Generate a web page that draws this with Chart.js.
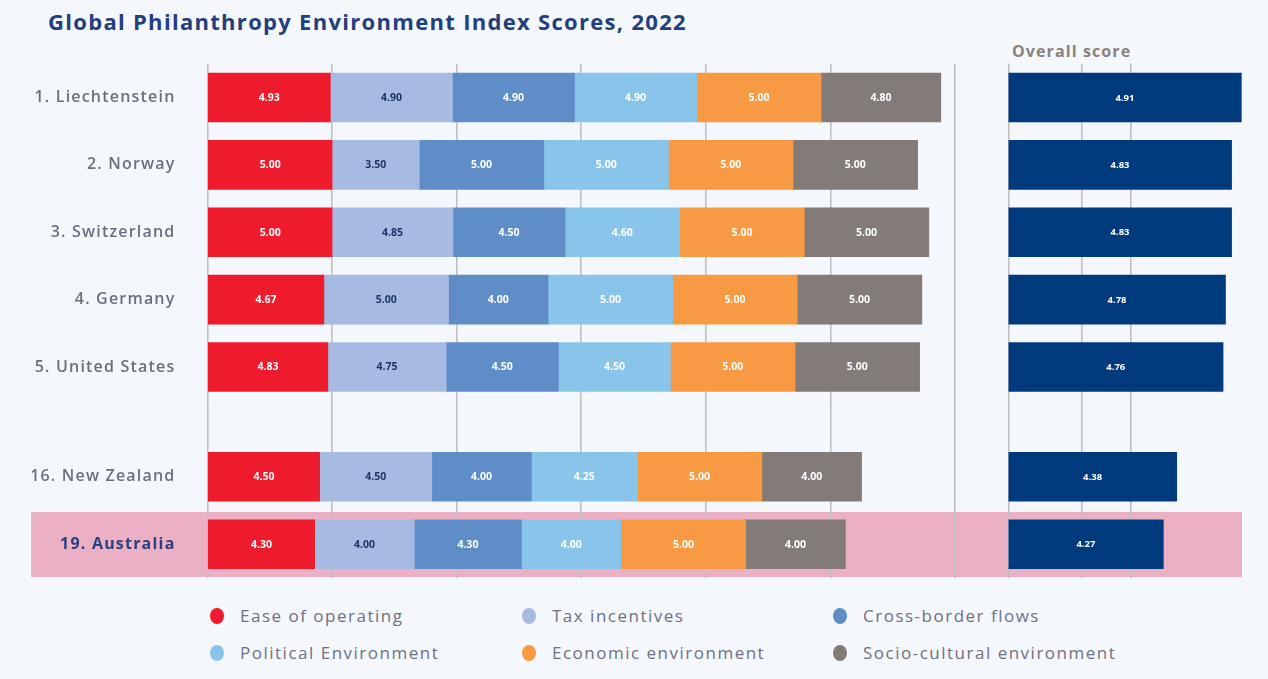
<!DOCTYPE html>
<html>
<head>
<meta charset="utf-8">
<script src="https://cdn.jsdelivr.net/npm/chart.js@4.4.1/dist/chart.umd.min.js"></script>
<style>
html,body{margin:0;padding:0;background:#f4f7fc;width:1268px;height:679px;overflow:hidden;font-family:"Open Sans",sans-serif}
#title{position:absolute;left:48px;top:6px;font-size:22px;font-weight:700;color:#24407c;white-space:nowrap;letter-spacing:1.3px}
#band{position:absolute;left:31px;top:512px;width:1211px;height:65px;background:#ebb0c3}
canvas{position:absolute}
#overallLabel{position:absolute;left:1012px;top:40px;font-size:16px;font-weight:700;color:#8c817c;white-space:nowrap;letter-spacing:1.1px}
#legend{position:absolute;left:210px;top:597px;display:grid;grid-template-columns:312px 311px auto;grid-auto-rows:37px}
.item{display:flex;align-items:center;font-size:17px;color:#707082;white-space:nowrap;letter-spacing:1.5px}
.dot{width:14px;height:16px;border-radius:50%;margin-right:16px;flex:none}
</style>
</head>
<body>
<div id="band"></div>
<div id="title">Global Philanthropy Environment Index Scores, 2022</div>
<div id="overallLabel">Overall score</div>
<canvas id="cTL" width="960" height="384" style="left:0;top:60px"></canvas>
<canvas id="cBL" width="960" height="135" style="left:0;top:443px"></canvas>
<canvas id="cTR" width="278" height="384" style="left:990px;top:60px"></canvas>
<canvas id="cBR" width="278" height="135" style="left:990px;top:443px"></canvas>
<div id="legend"></div>
<script>
// ---- data ----
const countriesTop = ["1. Liechtenstein", "2. Norway", "3. Switzerland", "4. Germany", "5. United States"];
const countriesBottom = ["16. New Zealand", "19. Australia"];
const seriesNames = ["Ease of operating", "Tax incentives", "Cross-border flows", "Political Environment", "Economic environment", "Socio-cultural environment"];
const easeOfOperating = [4.93, 5.00, 5.00, 4.67, 4.83, 4.50, 4.30];
const taxIncentives = [4.90, 3.50, 4.85, 5.00, 4.75, 4.50, 4.00];
const crossBorderFlows = [4.90, 5.00, 4.50, 4.00, 4.50, 4.00, 4.30];
const politicalEnvironment = [4.90, 5.00, 4.60, 5.00, 4.50, 4.25, 4.00];
const economicEnvironment = [5.00, 5.00, 5.00, 5.00, 5.00, 5.00, 5.00];
const socioCulturalEnvironment = [4.80, 5.00, 5.00, 5.00, 5.00, 4.00, 4.00];
const overallScore = [4.91, 4.83, 4.83, 4.78, 4.76, 4.38, 4.27];
const componentTicks = [0, 5, 10, 15, 20, 25, 30];
const overallTicks = [3, 3.6, 4];

// ---- styles ----
const seriesColors = ["#ee1b2d", "#a7bbe2", "#5e8dc8", "#89c5ea", "#f89943", "#827b78"];
const labelColors = ["#ffffff", "#1d3566", "#ffffff", "#ffffff", "#ffffff", "#ffffff"];
const overallColor = "#023b7d";
const gridColor = "#c0c0c4";
const gridWidth = 1.6;
const FONT = '"Open Sans", sans-serif';

const seriesValues = [easeOfOperating, taxIncentives, crossBorderFlows, politicalEnvironment, economicEnvironment, socioCulturalEnvironment];

const spacing = {
  id: 'spacing',
  beforeDraw(chart, args, opts) { chart.ctx.letterSpacing = opts.value || '0px'; }
};

const extendGrid = {
  id: 'extendGrid',
  beforeDatasetsDraw(chart, args, opts) {
    if (!opts.down) return;
    const {ctx, chartArea} = chart;
    const x = chart.scales.x;
    const h = gridWidth / 2;
    ctx.save();
    ctx.strokeStyle = gridColor;
    ctx.lineWidth = gridWidth;
    x.ticks.forEach(t => {
      const px = Math.round(x.getPixelForValue(t.value) - h) + h;
      ctx.beginPath();
      ctx.moveTo(px, chartArea.bottom - 1);
      ctx.lineTo(px, chart.height);
      ctx.stroke();
    });
    ctx.restore();
  }
};

const barLabels = {
  id: 'barLabels',
  afterDatasetsDraw(chart, args, opts) {
    const ctx = chart.ctx;
    ctx.save();
    ctx.letterSpacing = '0px';
    ctx.font = opts.font;
    ctx.textAlign = 'center';
    ctx.textBaseline = 'middle';
    const left = chart.chartArea.left;
    chart.data.datasets.forEach((ds, i) => {
      const meta = chart.getDatasetMeta(i);
      meta.data.forEach((el, j) => {
        const p = el.getProps(['x', 'y', 'base'], true);
        const b = Math.max(p.base, left);
        ctx.fillStyle = opts.colors[i];
        ctx.fillText(ds.data[j].toFixed(2), (p.x + b) / 2, p.y + 0.5);
      });
    });
    ctx.restore();
  }
};

function noPad(s) { s.paddingTop = 0; s.paddingBottom = 0; s.paddingLeft = 0; s.paddingRight = 0; }

function xAxis(min, max, ticks) {
  return {
    type: 'linear', min: min, max: max, stacked: true,
    grid: {display: true, color: gridColor, lineWidth: gridWidth, drawTicks: false},
    border: {display: false},
    ticks: {display: false},
    afterBuildTicks: s => { s.ticks = ticks.map(v => ({value: v})); },
    afterFit: s => { s.height = 0; noPad(s); }
  };
}

function makeComponents(id, labels, from, to, padding, extend, highlightIndex) {
  const datasets = seriesNames.map((name, i) => ({
    label: name,
    data: seriesValues[i].slice(from, to),
    backgroundColor: seriesColors[i],
    borderWidth: 0,
    barThickness: 49
  }));
  new Chart(document.getElementById(id), {
    type: 'bar',
    data: {labels: labels, datasets: datasets},
    options: {
      indexAxis: 'y', responsive: false, animation: false,
      layout: {padding: padding},
      plugins: {legend: {display: false}, tooltip: {enabled: false},
        spacing: {value: '1.2px'},
        extendGrid: {down: extend},
        barLabels: {font: '700 10.5px ' + FONT, colors: labelColors}},
      scales: {
        x: xAxis(0, 30, componentTicks),
        y: {
          type: 'category', stacked: true,
          grid: {display: false, drawTicks: false}, border: {display: false},
          ticks: {
            padding: 32,
            color: c => c.index === highlightIndex ? '#2a3f7d' : '#6d6d80',
            font: c => ({family: FONT, size: 16, weight: c.index === highlightIndex ? '700' : '600'})
          },
          afterFit: s => { s.width = 207.5; noPad(s); }
        }
      }
    },
    plugins: [spacing, extendGrid, barLabels]
  });
}

function makeOverall(id, labels, from, to, padding, extend) {
  new Chart(document.getElementById(id), {
    type: 'bar',
    data: {labels: labels, datasets: [{
      label: 'Overall score', data: overallScore.slice(from, to),
      backgroundColor: overallColor, borderWidth: 0, barThickness: 49
    }]},
    options: {
      indexAxis: 'y', responsive: false, animation: false,
      layout: {padding: padding},
      plugins: {legend: {display: false}, tooltip: {enabled: false},
        extendGrid: {down: extend},
        barLabels: {font: '700 9.5px ' + FONT, colors: ['#ffffff']}},
      scales: {
        x: xAxis(3, 5, overallTicks),
        y: {type: 'category', display: false}
      }
    },
    plugins: [extendGrid, barLabels]
  });
}

makeComponents('cTL', countriesTop, 0, 5, {top: 3.8, bottom: 43.3, left: 0, right: 5}, true, -1);
makeComponents('cBL', countriesBottom, 5, 7, {top: 0, bottom: 0, left: 0, right: 5}, false, 1);
makeOverall('cTR', countriesTop, 0, 5, {top: 3.8, bottom: 43.3, left: 18.5, right: 15.7}, true);
makeOverall('cBR', countriesBottom, 5, 7, {top: 0, bottom: 0, left: 18.5, right: 15.7}, false);

// legend
const legend = document.getElementById('legend');
seriesNames.forEach((name, i) => {
  const it = document.createElement('div');
  it.className = 'item';
  const d = document.createElement('span');
  d.className = 'dot';
  d.style.background = seriesColors[i];
  it.appendChild(d);
  it.appendChild(document.createTextNode(name));
  legend.appendChild(it);
});
</script>
</body>
</html>
